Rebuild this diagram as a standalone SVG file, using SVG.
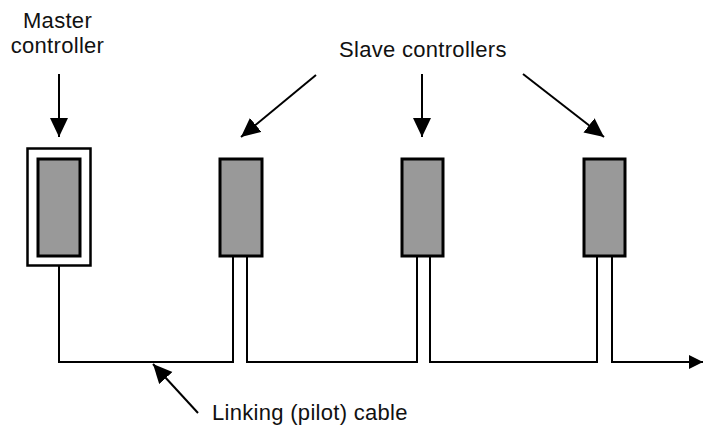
<svg xmlns="http://www.w3.org/2000/svg" width="704" height="425" viewBox="0 0 704 425">
  <style>
    .lbl { font-family: "Liberation Sans", Arial, sans-serif; font-size: 22px; letter-spacing: 0.3px; fill: #111; }
    .box { fill: #999999; stroke: #000; stroke-width: 3; }
    .frame { fill: none; stroke: #000; stroke-width: 2.5; }
    .arrow { fill: none; stroke: #000; stroke-width: 2; }
    .cable { fill: none; stroke: #000; stroke-width: 2; }
  </style>
  <defs>
    <marker id="ah" markerUnits="userSpaceOnUse" markerWidth="20" markerHeight="20" refX="19" refY="9" orient="auto">
      <path d="M0,0 L19,9 L0,18 Z" fill="#000"/>
    </marker>
    <marker id="ahs" markerUnits="userSpaceOnUse" markerWidth="16" markerHeight="16" refX="14" refY="7" orient="auto">
      <path d="M0,0 L14,7 L0,14 Z" fill="#000"/>
    </marker>
  </defs>
  <rect width="704" height="425" fill="#fff"/>

  <g id="master">
    <rect class="frame" x="27.5" y="148.5" width="63" height="117"/>
    <rect class="box" x="38" y="159" width="42" height="97"/>
  </g>
  <g id="slave1">
    <rect class="box" x="220" y="159" width="42" height="97"/>
  </g>
  <g id="slave2">
    <rect class="box" x="402" y="159" width="41" height="97"/>
  </g>
  <g id="slave3">
    <rect class="box" x="584" y="159" width="41" height="97"/>
  </g>

  <g id="labels">
    <text class="lbl" x="57.5" y="28" text-anchor="middle">Master</text>
    <text class="lbl" x="57.5" y="53" text-anchor="middle">controller</text>
    <text class="lbl" x="339" y="57">Slave controllers</text>
    <text class="lbl" x="212" y="420">Linking (pilot) cable</text>
  </g>

  <g id="connectors">
    <line class="arrow" x1="59" y1="74" x2="59" y2="137" marker-end="url(#ah)"/>
    <line class="arrow" x1="316" y1="75" x2="241" y2="137" marker-end="url(#ah)"/>
    <line class="arrow" x1="422" y1="74" x2="422" y2="137" marker-end="url(#ah)"/>
    <line class="arrow" x1="523" y1="74" x2="604" y2="137" marker-end="url(#ah)"/>
    <line class="arrow" x1="198" y1="413" x2="153" y2="364" marker-end="url(#ah)"/>
    <path class="cable" d="M59,266 V362 H233 V256"/>
    <path class="cable" d="M247,256 V362 H417 V256"/>
    <path class="cable" d="M430,256 V362 H597 V256"/>
    <path class="cable" d="M612,256 V362 H703" marker-end="url(#ahs)"/>
  </g>
</svg>
